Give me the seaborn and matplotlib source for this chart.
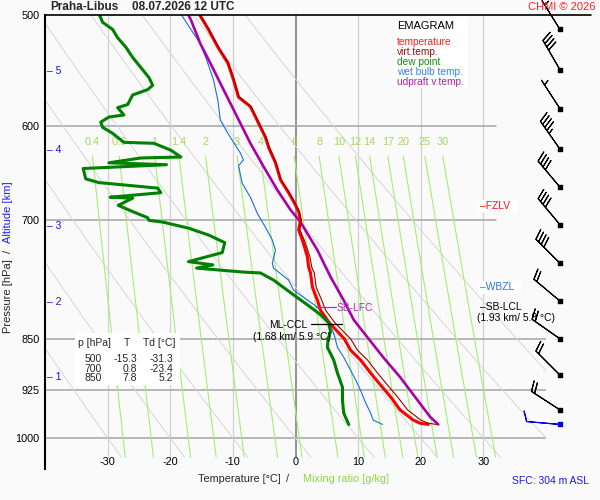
import numpy as np
import pandas as pd
import seaborn as sns
import matplotlib.pyplot as plt
from matplotlib.lines import Line2D
from matplotlib.patches import Rectangle
from matplotlib.ticker import NullLocator, NullFormatter

# sounding Praha-Libus 08.07.2026 12 UTC
temp_p = [500, 512, 527, 541, 556, 572, 581, 597, 611, 621, 637, 655, 669, 680, 690, 700, 711, 723, 743, 756,
          763, 781, 798, 811, 828, 850, 866, 880, 899, 917, 935, 955, 971, 976, 978]
temp_t = [-15.3, -13.9, -12.4, -10.8, -9.9, -9.1, -7.2, -5.9, -4.8, -4.3, -3.2, -2.4, -1.1, -0.2, 0.5, 0.8, 0.5,
          1.1, 1.9, 2.1, 2.4, 2.7, 3.5, 4.0, 5.4, 7.8, 8.8, 10.4, 12.0, 13.6, 15.2, 16.7, 18.8, 19.9, 21.2]
virt_t = [-15.2, -13.8, -12.3, -10.7, -9.8, -9.0, -7.1, -5.8, -4.7, -4.2, -3.1, -2.3, -1.0, -0.1, 0.6, 0.9, 0.7,
          1.4, 2.3, 2.6, 3.0, 3.3, 4.2, 4.8, 6.3, 8.8, 9.9, 11.5, 13.1, 14.7, 16.3, 17.9, 20.0, 21.2, 22.5]

dew_p = [500, 506, 512, 519, 527, 536, 547, 554, 561, 565, 570, 579, 582, 589, 591, 596, 601, 607, 612, 616,
         617, 624, 631, 632, 637, 639, 643, 654, 658, 664, 669, 674, 675, 683, 690, 697, 700, 702, 709, 717,
         726, 738, 749, 753, 757, 762, 763, 772, 788, 807, 817, 828, 840, 850, 862, 880, 899, 920, 940, 960, 978]
dew_t = [-31.3, -30.8, -29.2, -28.4, -27.1, -26.0, -24.4, -23.4, -22.8, -23.6, -26.0, -26.8, -28.4, -27.4, -29.8,
         -31.1, -30.8, -29.2, -28.2, -27.4, -22.6, -19.9, -18.3, -24.7, -29.8, -20.6, -33.9, -33.5, -31.4, -22.0,
         -21.5, -29.6, -26.0, -28.3, -26.0, -23.6, -23.4, -21.2, -17.1, -13.9, -11.3, -11.7, -17.1, -13.2, -15.8,
         -8.2, -5.6, -3.5, -0.8, 2.4, 4.0, 5.3, 5.6, 5.2, 5.1, 6.1, 6.7, 7.5, 7.5, 7.7, 8.5]

wb_p = [500, 512, 524, 538, 556, 575, 594, 607, 627, 634, 640, 659, 674, 692, 708, 723, 735, 751, 757, 772,
        785, 794, 807, 824, 842, 862, 876, 895, 909, 925, 944, 960, 971, 978]
wb_t = [-18.2, -16.7, -15.2, -14.2, -13.1, -12.4, -12.0, -10.8, -8.8, -8.3, -9.1, -8.5, -7.2, -6.1, -4.8, -3.7,
        -3.2, -3.7, -3.5, -1.1, -0.3, 1.3, 3.5, 5.1, 6.1, 6.7, 7.7, 8.8, 9.6, 10.4, 11.2, 12.0, 12.4, 13.9]

parcel_p = [500, 504, 524, 541, 565, 591, 617, 641, 666, 688, 702, 735, 768, 798, 824, 848, 876, 905, 940, 966, 978]
parcel_t = [-17.1, -16.7, -15.2, -13.6, -11.5, -9.3, -7.2, -5.1, -2.9, -0.8, 0.8, 3.5, 5.6, 7.7, 9.3, 11.5,
            14.0, 16.7, 19.5, 21.5, 22.8]

wind_p = [512, 547, 583, 623, 663, 705, 751, 799, 850, 902, 955]
wind_dir = [328, 330, 327, 325, 320, 320, 315, 310, 305, 315, 303]
wind_spd = [5, 40, 5, 45, 40, 40, 40, 20, 20, 20, 20]
sfc_p, sfc_dir, sfc_spd = 978, 275, 10

alt_km = [1, 2, 3, 4, 5]
alt_p = [905, 800, 707, 624, 548]

mix_w = [0.4, 0.6, 1, 1.4, 2, 3, 4, 6, 8, 10, 12, 14, 17, 20, 25, 30]
p_ticks = [500, 600, 700, 850, 925, 1000]
t_ticks = [-30, -20, -10, 0, 10, 20, 30]

tab_p = [500, 700, 850]
tab_t = [-15.3, 0.8, 7.8]
tab_td = [-31.3, -23.4, 5.2]

fzlv_p, wbzl_p, lcl_p, lfc_p, ccl_p = 684, 781, 807, 807, 831


def fx(x):
    return x / 600


def fy(y):
    return 1 - y / 500


def t_sat(w, p):
    e = w * p / (622 + w)
    a = np.log(e / 6.112)
    return 243.5 * a / (17.67 - a)


sns.set_theme(style='white')
plt.rcParams['font.family'] = ['Liberation Sans', 'DejaVu Sans']
bg = '#fafafa'

fig = plt.figure(figsize=(6, 5), dpi=100, facecolor=bg)
ax = fig.add_axes([fx(45), fy(469), 501 / 600, 454 / 500])
ax.set_facecolor(bg)
ax.set_yscale('log')
p_bot = 500 * np.exp(454 / 610.3)
ax.set_ylim(p_bot, 500)
ax.set_xlim(-40, 40)

# isotherms, isobars
for t in range(-30, 40, 10):
    if t == 0:
        ax.plot([t, t], [500, 1032], color='#8c8c8c', lw=1.3, zorder=1)
    else:
        ax.plot([t, t], [500, 1032], color='#d2d2d2', lw=0.9, zorder=1)
for p in p_ticks[1:]:
    right = 32 if p < 800 else 40
    ax.plot([-40, right], [p, p], color='#a4a4a4', lw=1.1, zorder=1)

# dry adiabats
pp = np.linspace(500, 1032, 120)
for th in range(-30, 60, 10):
    ax.plot((th + 273.15) * (pp / 1000) ** 0.2857 - 273.15, pp, color='#d6d6d6', lw=0.7, zorder=1)

# mixing ratio lines
pm = np.linspace(630, 1032, 60)
for w in mix_w:
    ax.plot(t_sat(w, pm), pm, color='#a4ee74', lw=0.8, zorder=1.5)
    ax.text(t_sat(w, 630), 616, f'{w:g}', ha='center', va='center', fontsize=7.8, color='#a6d85e', zorder=1.5)

# profiles
def profile(t, p, color, lw, z):
    df = pd.DataFrame({'t': t, 'p': p})
    sns.lineplot(data=df, x='t', y='p', sort=False, estimator=None, orient='y',
                 color=color, linewidth=lw, ax=ax, zorder=z)

profile(wb_t, wb_p, '#1a6ee0', 0.8, 3)
profile(parcel_t, parcel_p, '#aa00aa', 1.9, 3.2)
profile(temp_t, temp_p, '#ff0000', 2.2, 3.4)
profile(virt_t, temp_p, '#990000', 0.8, 3.5)
profile(dew_t, dew_p, '#008000', 2.2, 3.6)
ax.set_xlabel('')
ax.set_ylabel('')

# axes cosmetics
for s in ['top', 'right', 'bottom']:
    ax.spines[s].set_visible(False)
ax.spines['left'].set_color('black')
ax.spines['left'].set_linewidth(1.5)
ax.set_xticks([])
ax.set_yticks(p_ticks)
ax.set_yticklabels([str(p) for p in p_ticks])
ax.yaxis.set_minor_locator(NullLocator())
ax.yaxis.set_minor_formatter(NullFormatter())
ax.tick_params(axis='y', length=0, pad=4, labelsize=7.8, colors='black')
for t in t_ticks:
    ax.text(t, 1040, str(t), ha='center', va='center', fontsize=7.8, color='black')
fig.add_artist(Line2D([fx(45), fx(591)], [fy(15), fy(15)], color='black', lw=1.2))

# altitude scale
for km, p in zip(alt_km, alt_p):
    ax.text(0.004, p, f'\u2013 {km}', transform=ax.get_yaxis_transform(), ha='left', va='center',
            fontsize=7.5, color='#1414ee')

# wind barbs
trans_r = ax.get_yaxis_transform()
bx = (560 - 45) / 501
bsz = dict(height=0.3, spacing=0.11, width=0.2)
d = np.deg2rad(wind_dir)
u = -np.array(wind_spd) * np.sin(d)
v = -np.array(wind_spd) * np.cos(d)
ax.barbs(np.full(len(wind_p), bx), wind_p, u, v, transform=trans_r, length=7, linewidth=0.8,
         sizes=bsz, color='black', clip_on=False, zorder=6)
ax.scatter(np.full(len(wind_p), bx), wind_p, s=6, marker='s', color='black', transform=trans_r,
           clip_on=False, zorder=7)
ds = np.deg2rad(sfc_dir)
ax.barbs([bx], [sfc_p], [-sfc_spd * np.sin(ds)], [-sfc_spd * np.cos(ds)], transform=trans_r, length=7,
         linewidth=0.8, sizes=bsz, color='#0000ee', clip_on=False, zorder=6)
ax.scatter([bx], [sfc_p], s=6, marker='s', color='#0000ee', transform=trans_r, clip_on=False, zorder=7)

# level markers
lx = (480 - 45) / 501
box = dict(facecolor='white', edgecolor='none', pad=1.2)
ax.text(lx, fzlv_p, '\u2013FZLV  ', transform=trans_r, ha='left', va='center', fontsize=7.4,
        color='#ff1010', bbox=box, zorder=5)
ax.text(lx, wbzl_p, '\u2013WBZL  ', transform=trans_r, ha='left', va='center', fontsize=7.4,
        color='#2a76e6', bbox=box, zorder=5)
ax.text(lx, lcl_p, '\u2013SB-LCL', transform=trans_r, ha='left', va='center', fontsize=7.4,
        color='black', zorder=5)
ax.text((516 - 45) / 501, 822, '(1.93 km/ 5.8 \u00b0C)', transform=trans_r, ha='center', va='center',
        fontsize=7.4, color='black', zorder=5)
ax.plot([3.2, 6.5], [lfc_p, lfc_p], color='#b030b0', lw=0.9, zorder=5)
ax.text(6.6, lfc_p + 1, 'SB-LFC', ha='left', va='center', fontsize=7.4, color='#b030b0', zorder=5)
ax.plot([2.4, 7.4], [ccl_p - 1, ccl_p - 1], color='black', lw=0.9, zorder=5)
ax.text(1.9, ccl_p, 'ML-CCL', ha='right', va='center', fontsize=7.4, color='black', zorder=5)
ax.text(-0.6, 847, '(1.68 km/ 5.9 \u00b0C)', ha='center', va='center', fontsize=7.4, color='black', zorder=5)

# legend box
fig.add_artist(Rectangle((fx(395), fy(88)), 73 / 600, 71 / 500, transform=fig.transFigure,
                         facecolor='white', edgecolor='none', zorder=2))
fig.text(fx(397), fy(26), 'EMAGRAM', fontsize=8, color='black', va='center', zorder=3)
leg = [('temperature', '#ff2020'), ('virt.temp.', '#a01010'), ('dew point', '#109010'),
       ('wet bulb temp.', '#3a80e8'), ('udpraft v.temp.', '#b020b0')]
for i, (lab, col) in enumerate(leg):
    fig.text(fx(397), fy(42 + 10 * i), lab, fontsize=7.3, color=col, va='center', zorder=3)

# table box
fig.add_artist(Rectangle((fx(75), fy(385)), 105 / 600, 52 / 500, transform=fig.transFigure,
                         facecolor='white', edgecolor='none', zorder=2))
fig.text(fx(78), fy(343), 'p [hPa]', fontsize=7.5, va='center', zorder=3)
fig.text(fx(127), fy(343), 'T', fontsize=7.5, va='center', ha='center', zorder=3)
fig.text(fx(143), fy(343), 'Td [\u00b0C]', fontsize=7.5, va='center', zorder=3)
for i, (p, t, td) in enumerate(zip(tab_p, tab_t, tab_td)):
    yy = fy(359 + 9.5 * i)
    fig.text(fx(102), yy, f'{p}', fontsize=7.5, va='center', ha='right', zorder=3)
    fig.text(fx(137), yy, f'{t:.1f}', fontsize=7.5, va='center', ha='right', zorder=3)
    fig.text(fx(173), yy, f'{td:.1f}', fontsize=7.5, va='center', ha='right', zorder=3)

# titles and axis labels
fig.text(fx(50), fy(7), 'Praha-Libus', fontsize=8.5, fontweight='bold', va='center')
fig.text(fx(132), fy(7), '08.07.2026 12 UTC', fontsize=8.5, fontweight='bold', va='center')
fig.text(fx(595), fy(7), 'CHMI \u00a9 2026', fontsize=8, color='#ff2020', va='center', ha='right')
fig.text(fx(8), fy(296), 'Pressure [hPa]', rotation=90, fontsize=8, ha='center', va='center')
fig.text(fx(8), fy(251), '/', rotation=90, fontsize=8, ha='center', va='center')
fig.text(fx(8), fy(212), 'Altitude [km]', rotation=90, fontsize=8, ha='center', va='center', color='#2020ee')
fig.text(fx(198), fy(479), 'Temperature [\u00b0C]', fontsize=7.8, va='center')
fig.text(fx(288), fy(479), '/', fontsize=7.8, va='center', ha='center')
fig.text(fx(303), fy(479), 'Mixing ratio [g/kg]', fontsize=7.8, va='center', color='#8ed44a')
fig.text(fx(512), fy(481), 'SFC: 304 m ASL', fontsize=7.5, va='center', color='#1a1aee')

fig.savefig('out.png', dpi=100, facecolor=bg)
